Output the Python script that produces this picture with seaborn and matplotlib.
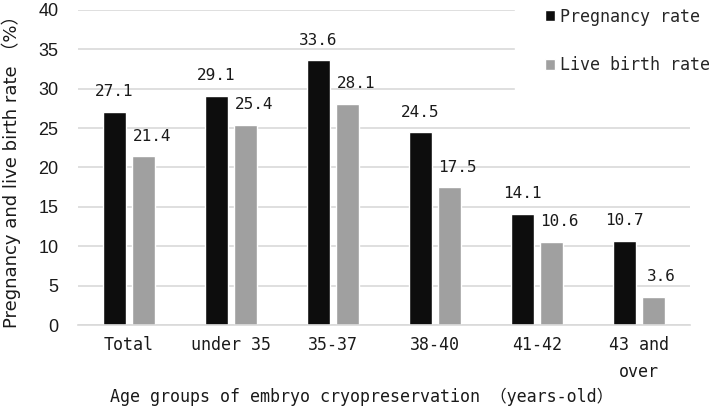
import matplotlib
matplotlib.use("Agg")
import matplotlib.pyplot as plt
import seaborn as sns
import pandas as pd

age_groups = ["Total", "under 35", "35-37", "38-40", "41-42", "43 and\nover"]
pregnancy_rate = [27.1, 29.1, 33.6, 24.5, 14.1, 10.7]
live_birth_rate = [21.4, 25.4, 28.1, 17.5, 10.6, 3.6]
series_names = ["Pregnancy rate", "Live birth rate"]
series_colors = ["#0d0d0d", "#a0a0a0"]

df = pd.DataFrame({
    "group": age_groups * 2,
    "rate": pregnancy_rate + live_birth_rate,
    "series": [series_names[0]] * len(age_groups) + [series_names[1]] * len(age_groups),
})

sns.set_theme(style="white")
fonts = ["DejaVu Sans Mono", "Noto Sans CJK JP"]
plt.rcParams["font.family"] = fonts
plt.rcParams["font.size"] = 12

fig = plt.figure(figsize=(7.09, 4.09), dpi=100)
ax = fig.add_axes([0.110, 0.205, 0.863, 0.771])

sns.barplot(data=df, x="group", y="rate", hue="series", palette=series_colors,
            width=0.57, gap=0.2, ax=ax, legend=True, zorder=2)

for i, cont in enumerate(ax.containers):
    anns = ax.bar_label(cont, labels=[f"{v:.1f}" for v in cont.datavalues],
                        padding=9, fontsize=11.5, color="#1a1a1a")
    if i == 1:
        for a in anns:
            a.xyann = (6, 9)

ax.set_ylim(0, 40)
ax.set_yticks(range(0, 41, 5))
ax.yaxis.grid(True, color="#d9d9d9", linewidth=1.2, zorder=0)
ax.set_axisbelow(True)
for s in ["top", "right", "left"]:
    ax.spines[s].set_visible(False)
ax.spines["bottom"].set_color("#d9d9d9")
ax.spines["bottom"].set_linewidth(1.2)
ax.tick_params(axis="y", length=0, pad=14, colors="#1a1a1a")
ax.tick_params(axis="x", length=0, pad=8, labelsize=12, colors="#1a1a1a")
for t in ax.get_yticklabels():
    t.set_fontfamily(["Liberation Sans", "DejaVu Sans"])
    t.set_fontsize(13)
for t in ax.get_xticklabels():
    t.set_linespacing(1.6)

ax.set_xlabel("Age groups of embryo cryopreservation （years-old）", fontsize=12,
              color="#1a1a1a")
ax.xaxis.set_label_coords(0.464, -0.2)
ax.set_ylabel("Pregnancy and live birth rate （%）", fontsize=13, color="#1a1a1a",
              family=["DejaVu Sans", "Noto Sans CJK JP"])
ax.yaxis.set_label_coords(-0.093, 0.5)

ax.legend(loc="upper left", bbox_to_anchor=(0.715, 1.075), bbox_transform=fig.transFigure,
          frameon=True, facecolor="white", edgecolor="white", framealpha=1,
          handlelength=0.6, handleheight=0.6, handletextpad=0.3,
          labelspacing=1.85, borderpad=1.8, fontsize=12, title=None)

fig.savefig("out.png", dpi=100)
